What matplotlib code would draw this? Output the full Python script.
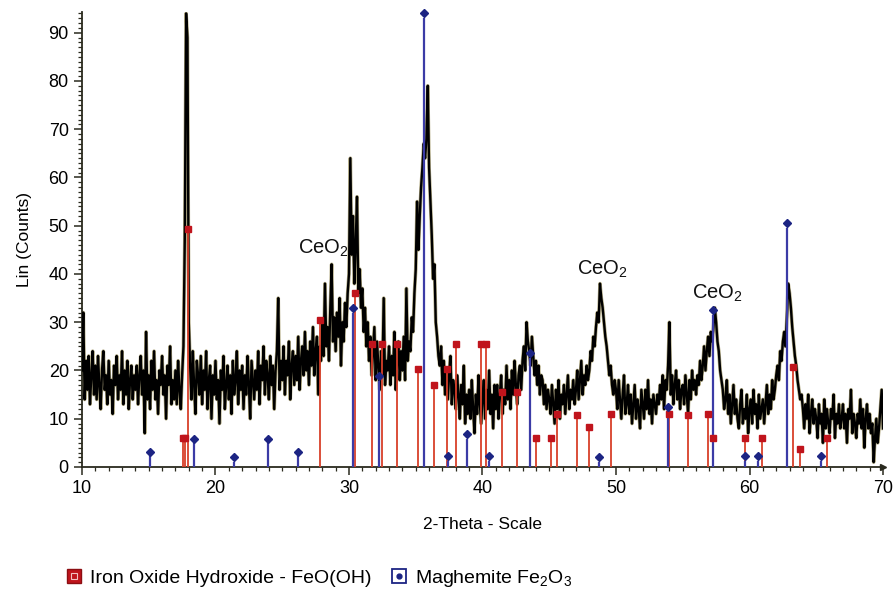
import numpy as np
import matplotlib
matplotlib.use('Agg')
import matplotlib.pyplot as plt
from matplotlib.lines import Line2D
from matplotlib.ticker import MultipleLocator
from matplotlib import font_manager

# ---------------------------------------------------------------
# Data (0.1 deg steps, 10.0 .. 70.0)
# ---------------------------------------------------------------
THETA_START, THETA_STEP = 10.0, 0.1

counts = [
    20, 32, 14, 22, 16, 23, 13, 19, 24, 15,   # 10
    21, 14, 23, 17, 12, 20, 24, 16, 19, 13,   # 11
    22, 15, 18, 11, 21, 17, 23, 14, 19, 16,   # 12
    24, 13, 20, 15, 22, 12, 18, 21, 14, 19,   # 13
    16, 21, 13, 19, 23, 15, 20, 7, 28, 14,    # 14
    19, 12, 22, 16, 24, 14, 18, 11, 20, 17,   # 15
    23, 15, 19, 10, 21, 17, 25, 13, 18, 14,   # 16
    20, 13, 22, 16, 12, 19, 25, 47, 94, 89,   # 17
    30, 21, 14, 24, 17, 11, 22, 19, 15, 23,   # 18
    13, 20, 16, 24, 12, 18, 21, 10, 19, 15,   # 19
    22, 14, 18, 9, 20, 16, 23, 12, 17, 21,    # 20
    14, 19, 11, 22, 15, 18, 24, 13, 20, 16,   # 21
    21, 12, 19, 15, 23, 17, 10, 22, 18, 14,   # 22
    20, 16, 24, 13, 21, 18, 25, 15, 22, 19,   # 23
    14, 23, 17, 21, 12, 20, 24, 35, 16, 22,   # 24
    18, 25, 15, 22, 19, 26, 14, 21, 24, 17,   # 25
    23, 18, 27, 16, 22, 25, 19, 28, 20, 24,   # 26
    17, 26, 21, 29, 19, 24, 27, 15, 25, 22,   # 27
    30, 23, 38, 25, 29, 22, 33, 42, 26, 31,   # 28
    24, 32, 27, 35, 21, 30, 26, 34, 29, 36,   # 29
    40, 64, 44, 52, 38, 46, 56, 36, 41, 33,   # 30
    37, 28, 33, 25, 30, 22, 27, 19, 24, 29,   # 31
    18, 26, 21, 16, 24, 19, 35, 17, 22, 20,   # 32
    25, 17, 23, 19, 28, 16, 22, 26, 18, 24,   # 33
    20, 27, 18, 37, 22, 26, 24, 31, 28, 36,   # 34
    41, 55, 45, 52, 58, 62, 67, 64, 68, 79,   # 35
    62, 55, 48, 39, 42, 30, 27, 23, 21, 25,   # 36
    17, 22, 15, 20, 14, 19, 23, 13, 18, 16,   # 37
    12, 19, 15, 10, 17, 13, 21, 9, 15, 11,    # 38
    16, 10, 18, 12, 7, 15, 11, 19, 13, 9,     # 39
    14, 18, 10, 16, 12, 20, 11, 15, 8, 17,    # 40
    12, 17, 10, 15, 19, 11, 16, 13, 21, 14,   # 41
    18, 12, 20, 15, 22, 17, 13, 19, 21, 16,   # 42
    22, 25, 20, 30, 26, 24, 21, 27, 23, 19,   # 43
    22, 17, 21, 15, 19, 18, 13, 17, 12, 16,   # 44
    14, 11, 17, 13, 9, 16, 12, 18, 10, 15,    # 45
    13, 17, 11, 15, 19, 12, 16, 14, 18, 13,   # 46
    16, 20, 14, 18, 22, 15, 19, 17, 21, 18,   # 47
    20, 24, 22, 27, 25, 29, 32, 30, 38, 35,   # 48
    33, 30, 27, 25, 22, 19, 21, 17, 15, 18,   # 49
    16, 12, 18, 14, 10, 15, 19, 11, 13, 17,   # 50
    11, 15, 9, 13, 17, 10, 14, 12, 8, 16,     # 51
    13, 10, 16, 12, 18, 11, 14, 9, 15, 13,    # 52
    11, 15, 13, 17, 14, 19, 12, 18, 16, 21,   # 53
    30, 15, 19, 13, 17, 20, 14, 18, 12, 16,   # 54
    17, 13, 19, 15, 11, 18, 14, 20, 16, 18,   # 55
    15, 19, 17, 22, 18, 21, 25, 20, 24, 27,   # 56
    23, 28, 26, 29, 33, 30, 26, 24, 20, 18,   # 57
    16, 12, 14, 18, 11, 15, 9, 13, 17, 11,    # 58
    14, 10, 8, 13, 16, 9, 12, 10, 15, 7,      # 59
    12, 14, 9, 16, 11, 13, 8, 15, 10, 12,     # 60
    14, 9, 13, 17, 11, 15, 12, 18, 14, 16,    # 61
    19, 21, 18, 24, 22, 26, 28, 25, 31, 38,   # 62
    36, 33, 29, 26, 23, 21, 18, 16, 14, 15,   # 63
    12, 8, 13, 10, 15, 7, 11, 14, 9, 12,      # 64
    10, 6, 13, 9, 11, 5, 14, 8, 12, 9,        # 65
    7, 12, 10, 15, 6, 11, 9, 13, 8, 10,       # 66
    13, 8, 11, 5, 12, 10, 16, 7, 11, 9,       # 67
    6, 11, 9, 14, 8, 12, 4, 10, 13, 8,        # 68
    11, 7, 9, 1, 6, 10, 5, 8, 12, 16,         # 69
    8,                                        # 70
]
theta = THETA_START + THETA_STEP * np.arange(len(counts))

# reference pattern: Iron Oxide Hydroxide - FeO(OH)
feooh_pos = [17.60, 17.72, 17.92, 27.83, 30.45, 31.75, 32.50, 33.57, 35.20,
             36.40, 37.35, 37.99, 39.90, 40.30, 41.49, 42.58, 43.98, 45.15,
             45.61, 47.10, 47.96, 49.62, 53.95, 55.37, 56.87, 57.25, 59.70,
             60.91, 63.28, 63.78, 65.83]
feooh_int = [6.1, 6.1, 49.3, 30.4, 36.0, 25.4, 25.4, 25.4, 20.4,
             17.0, 20.4, 25.4, 25.4, 25.4, 15.6, 15.6, 6.1, 6.1,
             11.0, 10.8, 8.3, 11.0, 11.0, 10.8, 10.9, 6.1, 6.1,
             6.1, 20.8, 3.7, 6.1]

# reference pattern: Maghemite Fe2O3
maghemite_pos = [15.09, 18.41, 21.39, 23.91, 26.15, 30.32, 32.22, 35.62,
                 37.42, 38.83, 40.51, 43.56, 48.75, 53.92, 57.24, 59.66,
                 60.60, 62.81, 65.33]
maghemite_int = [3.2, 5.9, 2.1, 5.9, 3.2, 32.9, 18.8, 94.0,
                 2.3, 6.8, 2.3, 23.6, 2.1, 12.4, 32.5, 2.3,
                 2.3, 50.6, 2.3]

# CeO2 reflections labelled on the pattern
ceo2_labels = [(28.05, 45.3), (48.95, 41.0), (57.57, 36.0)]

# ---------------------------------------------------------------
installed = {f.name for f in font_manager.fontManager.ttflist}
TICK_FONT = 'Liberation Sans Narrow' if 'Liberation Sans Narrow' in installed else 'Liberation Sans'
plt.rcParams['font.family'] = ['Liberation Sans', 'DejaVu Sans']
plt.rcParams['mathtext.fontset'] = 'custom'
plt.rcParams['mathtext.rm'] = 'Liberation Sans'
plt.rcParams['mathtext.it'] = 'Liberation Sans'

RED_LINE = '#d8402a'
RED_MARK = '#c0141c'
BLUE_LINE = '#3b3ba6'
BLUE_MARK = '#1c2483'
AXIS_COL = '#2a2a1e'

fig = plt.figure(figsize=(8.95, 5.99), dpi=100)
ax = fig.add_axes([0.0916, 0.2204, 0.895, 0.7596])

# measured trace
ax.plot(theta, counts, color='#b4ac86', lw=2.6, zorder=2)
ax.plot(theta, counts, color='black', lw=1.7, zorder=3)

# stick patterns
ax.vlines(feooh_pos, 0, feooh_int, color=RED_LINE, lw=1.3, zorder=4)
ax.plot(feooh_pos, feooh_int, 's', color=RED_MARK, ms=4.8, zorder=5,
        clip_on=False)
ax.vlines(maghemite_pos, 0, np.array(maghemite_int) - 1.0, color=BLUE_LINE,
          lw=1.6, zorder=4)
ax.plot(maghemite_pos, maghemite_int, 'D', color=BLUE_MARK, ms=3.8, zorder=5,
        clip_on=False)

for x, y in ceo2_labels:
    ax.text(x, y, r'CeO$_2$', fontsize=14.5, ha='center', va='center',
            color='#111111')

ax.set_xlim(10, 70)
ax.set_ylim(0, 94.3)
ax.xaxis.set_major_locator(MultipleLocator(10))
ax.xaxis.set_minor_locator(MultipleLocator(1))
ax.yaxis.set_major_locator(MultipleLocator(10))
ax.yaxis.set_minor_locator(MultipleLocator(1))
ax.tick_params(axis='both', which='major', length=6, width=1.1, color=AXIS_COL,
               labelsize=13)
ax.tick_params(axis='both', which='minor', length=3, width=0.9, color=AXIS_COL)
for lab in ax.get_xticklabels() + ax.get_yticklabels():
    lab.set_fontfamily(TICK_FONT)

for side in ('top', 'right'):
    ax.spines[side].set_visible(False)
for side in ('left', 'bottom'):
    ax.spines[side].set_color(AXIS_COL)
    ax.spines[side].set_linewidth(1.3)
ax.plot(1, 0, '>', color=AXIS_COL, ms=4, transform=ax.transAxes, clip_on=False)

ax.set_xlabel('2-Theta - Scale', fontsize=12.5, fontfamily=TICK_FONT, labelpad=14)
ax.set_ylabel('Lin (Counts)', fontsize=12.5, fontfamily=TICK_FONT, labelpad=12)

# legend
red_h = (Line2D([], [], ls='none', marker='s', ms=10, mfc=RED_MARK, mec='#8c0e12'),
         Line2D([], [], ls='none', marker='s', ms=5, mfc='none', mec='#f2c2c2', mew=0.8))
blue_h = (Line2D([], [], ls='none', marker='s', ms=10, mfc='white', mec=BLUE_MARK, mew=1.3),
          Line2D([], [], ls='none', marker='o', ms=3.5, color=BLUE_MARK))
fig.legend([red_h, blue_h],
           ['Iron Oxide Hydroxide - FeO(OH)', r'Maghemite Fe$_2$O$_3$'],
           loc='lower left', bbox_to_anchor=(0.054, -0.012), ncol=2,
           frameon=False, fontsize=14, handlelength=0.8, handletextpad=0.45,
           columnspacing=1.0)

fig.savefig('out.png', dpi=100)
